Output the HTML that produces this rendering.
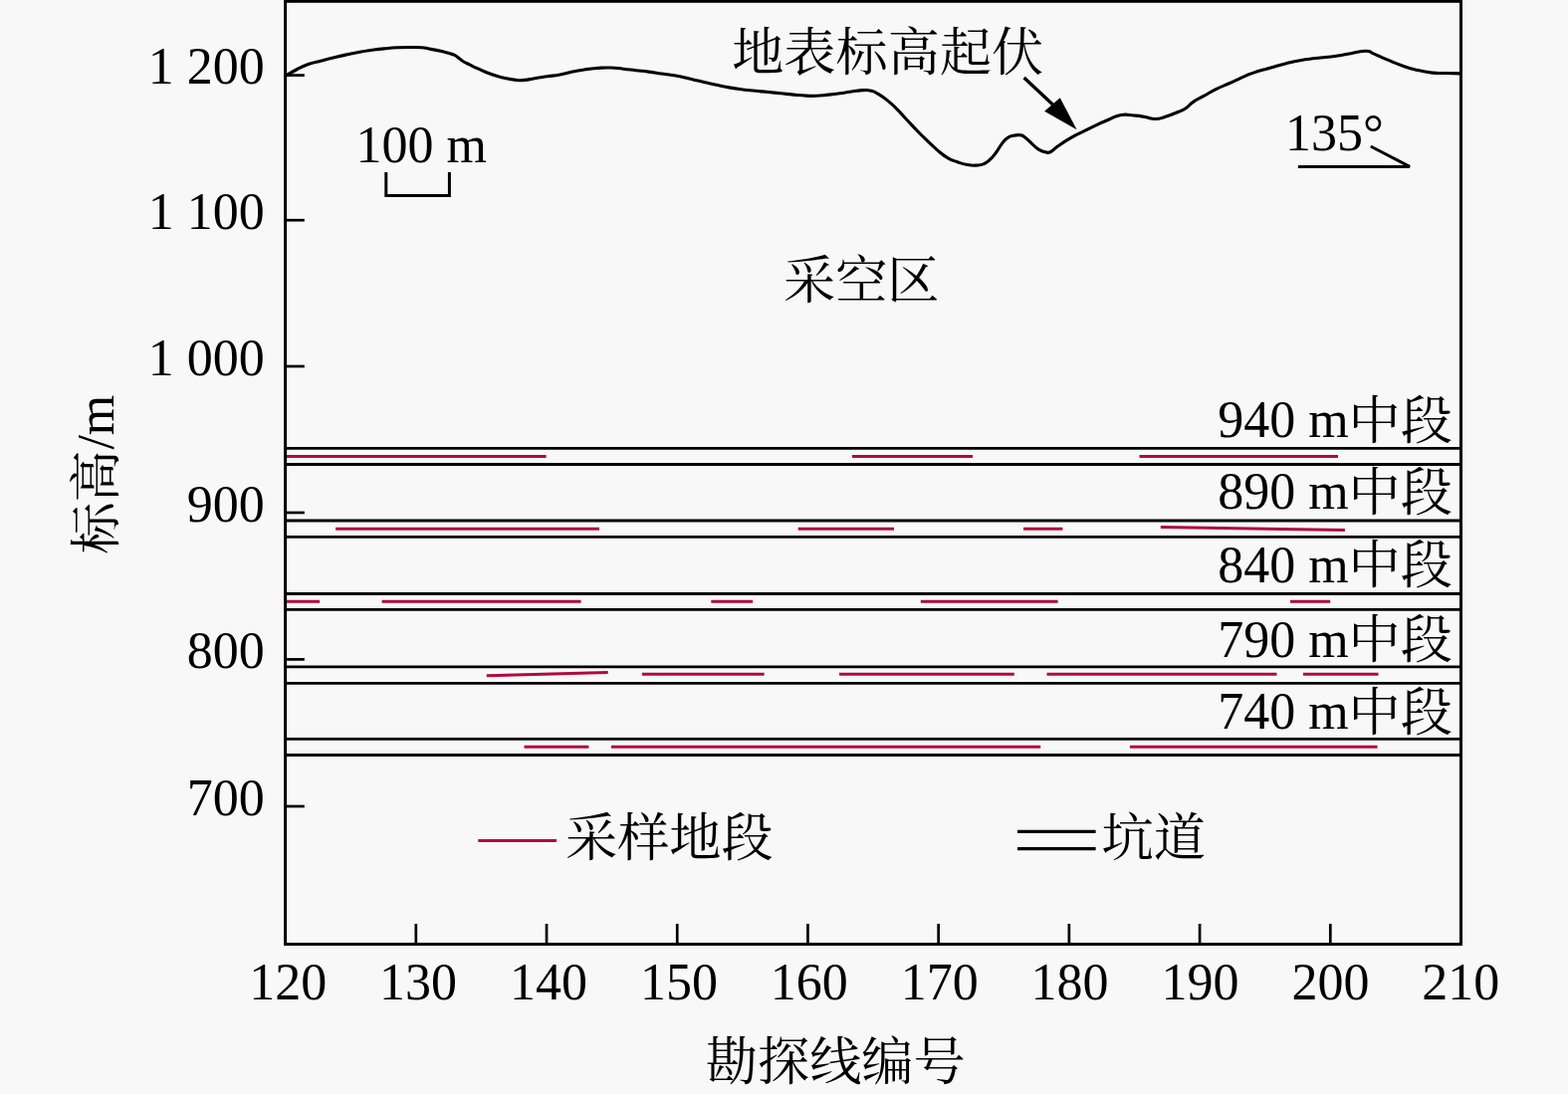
<!DOCTYPE html>
<html><head><meta charset="utf-8"><title>chart</title>
<style>html,body{margin:0;padding:0;background:#f8f8f8}svg{display:block}text{font-family:"Liberation Serif","Noto Serif CJK SC",serif;fill:#000}</style>
</head><body>
<svg width="1575" height="1099" viewBox="0 0 1575 1099">
<rect width="1575" height="1099" fill="#f8f8f8"/>
<rect x="286.6" y="1.3" width="1180.9" height="947.2" fill="none" stroke="#000" stroke-width="3"/>
<line x1="286.6" y1="75.6" x2="305.8" y2="75.6" stroke="#000" stroke-width="2.7" stroke-linecap="butt"/>
<text x="265.8" y="84.3" font-size="52" text-anchor="end">1 200</text>
<line x1="286.6" y1="221.2" x2="305.8" y2="221.2" stroke="#000" stroke-width="2.7" stroke-linecap="butt"/>
<text x="265.8" y="229.9" font-size="52" text-anchor="end">1 100</text>
<line x1="286.6" y1="368" x2="305.8" y2="368" stroke="#000" stroke-width="2.7" stroke-linecap="butt"/>
<text x="265.8" y="376.7" font-size="52" text-anchor="end">1 000</text>
<line x1="286.6" y1="515" x2="305.8" y2="515" stroke="#000" stroke-width="2.7" stroke-linecap="butt"/>
<text x="265.8" y="523.7" font-size="52" text-anchor="end">900</text>
<line x1="286.6" y1="662.4" x2="305.8" y2="662.4" stroke="#000" stroke-width="2.7" stroke-linecap="butt"/>
<text x="265.8" y="671.1" font-size="52" text-anchor="end">800</text>
<line x1="286.6" y1="810" x2="305.8" y2="810" stroke="#000" stroke-width="2.7" stroke-linecap="butt"/>
<text x="265.8" y="818.7" font-size="52" text-anchor="end">700</text>
<text x="289.2" y="1003.8" font-size="52" text-anchor="middle">120</text>
<line x1="417.811" y1="948.5" x2="417.811" y2="928" stroke="#000" stroke-width="2.7" stroke-linecap="butt"/>
<text x="420.1" y="1003.8" font-size="52" text-anchor="middle">130</text>
<line x1="549.022" y1="948.5" x2="549.022" y2="928" stroke="#000" stroke-width="2.7" stroke-linecap="butt"/>
<text x="551" y="1003.8" font-size="52" text-anchor="middle">140</text>
<line x1="680.233" y1="948.5" x2="680.233" y2="928" stroke="#000" stroke-width="2.7" stroke-linecap="butt"/>
<text x="681.9" y="1003.8" font-size="52" text-anchor="middle">150</text>
<line x1="811.444" y1="948.5" x2="811.444" y2="928" stroke="#000" stroke-width="2.7" stroke-linecap="butt"/>
<text x="812.8" y="1003.8" font-size="52" text-anchor="middle">160</text>
<line x1="942.656" y1="948.5" x2="942.656" y2="928" stroke="#000" stroke-width="2.7" stroke-linecap="butt"/>
<text x="943.7" y="1003.8" font-size="52" text-anchor="middle">170</text>
<line x1="1073.87" y1="948.5" x2="1073.87" y2="928" stroke="#000" stroke-width="2.7" stroke-linecap="butt"/>
<text x="1074.6" y="1003.8" font-size="52" text-anchor="middle">180</text>
<line x1="1205.08" y1="948.5" x2="1205.08" y2="928" stroke="#000" stroke-width="2.7" stroke-linecap="butt"/>
<text x="1205.5" y="1003.8" font-size="52" text-anchor="middle">190</text>
<line x1="1336.29" y1="948.5" x2="1336.29" y2="928" stroke="#000" stroke-width="2.7" stroke-linecap="butt"/>
<text x="1336.4" y="1003.8" font-size="52" text-anchor="middle">200</text>
<text x="1467.3" y="1003.8" font-size="52" text-anchor="middle">210</text>
<line x1="286.6" y1="450.4" x2="1467.5" y2="450.4" stroke="#000" stroke-width="2.8" stroke-linecap="butt"/>
<line x1="286.6" y1="466.5" x2="1467.5" y2="466.5" stroke="#000" stroke-width="2.8" stroke-linecap="butt"/>
<line x1="286.6" y1="523" x2="1467.5" y2="523" stroke="#000" stroke-width="2.8" stroke-linecap="butt"/>
<line x1="286.6" y1="539.3" x2="1467.5" y2="539.3" stroke="#000" stroke-width="2.8" stroke-linecap="butt"/>
<line x1="286.6" y1="596.5" x2="1467.5" y2="596.5" stroke="#000" stroke-width="2.8" stroke-linecap="butt"/>
<line x1="286.6" y1="612.3" x2="1467.5" y2="612.3" stroke="#000" stroke-width="2.8" stroke-linecap="butt"/>
<line x1="286.6" y1="669.8" x2="1467.5" y2="669.8" stroke="#000" stroke-width="2.8" stroke-linecap="butt"/>
<line x1="286.6" y1="686.3" x2="1467.5" y2="686.3" stroke="#000" stroke-width="2.8" stroke-linecap="butt"/>
<line x1="286.6" y1="742.4" x2="1467.5" y2="742.4" stroke="#000" stroke-width="2.8" stroke-linecap="butt"/>
<line x1="286.6" y1="758.5" x2="1467.5" y2="758.5" stroke="#000" stroke-width="2.8" stroke-linecap="butt"/>
<line x1="288" y1="458.4" x2="548.6" y2="458.4" stroke="#b00a40" stroke-width="3" stroke-linecap="butt"/>
<line x1="856" y1="458.4" x2="977" y2="458.4" stroke="#b00a40" stroke-width="3" stroke-linecap="butt"/>
<line x1="1144.5" y1="458.4" x2="1344" y2="458.4" stroke="#b00a40" stroke-width="3" stroke-linecap="butt"/>
<line x1="337.1" y1="531.3" x2="602" y2="531.3" stroke="#b00a40" stroke-width="3" stroke-linecap="butt"/>
<line x1="801.7" y1="531.3" x2="898" y2="531.3" stroke="#b00a40" stroke-width="3" stroke-linecap="butt"/>
<line x1="1028" y1="531.3" x2="1067.4" y2="531.3" stroke="#b00a40" stroke-width="3" stroke-linecap="butt"/>
<line x1="288" y1="604.2" x2="321.1" y2="604.2" stroke="#b00a40" stroke-width="3" stroke-linecap="butt"/>
<line x1="383.6" y1="604.2" x2="583.6" y2="604.2" stroke="#b00a40" stroke-width="3" stroke-linecap="butt"/>
<line x1="714.3" y1="604.2" x2="756.2" y2="604.2" stroke="#b00a40" stroke-width="3" stroke-linecap="butt"/>
<line x1="924.8" y1="604.2" x2="1062.6" y2="604.2" stroke="#b00a40" stroke-width="3" stroke-linecap="butt"/>
<line x1="1296" y1="604.2" x2="1336.2" y2="604.2" stroke="#b00a40" stroke-width="3" stroke-linecap="butt"/>
<line x1="645" y1="677.3" x2="767.6" y2="677.3" stroke="#b00a40" stroke-width="3" stroke-linecap="butt"/>
<line x1="843" y1="677.3" x2="1018.8" y2="677.3" stroke="#b00a40" stroke-width="3" stroke-linecap="butt"/>
<line x1="1051.5" y1="677.3" x2="1282.5" y2="677.3" stroke="#b00a40" stroke-width="3" stroke-linecap="butt"/>
<line x1="1309" y1="677.3" x2="1384.5" y2="677.3" stroke="#b00a40" stroke-width="3" stroke-linecap="butt"/>
<line x1="526.5" y1="750.2" x2="591.4" y2="750.2" stroke="#b00a40" stroke-width="3" stroke-linecap="butt"/>
<line x1="613.9" y1="750.2" x2="1045.2" y2="750.2" stroke="#b00a40" stroke-width="3" stroke-linecap="butt"/>
<line x1="1134.9" y1="750.2" x2="1383.5" y2="750.2" stroke="#b00a40" stroke-width="3" stroke-linecap="butt"/>
<line x1="1165.8" y1="529.6" x2="1350.9" y2="532.5" stroke="#b00a40" stroke-width="3" stroke-linecap="butt"/>
<line x1="488.8" y1="678.8" x2="610.7" y2="675.6" stroke="#b00a40" stroke-width="3" stroke-linecap="butt"/>
<path d="M286.6 76.3 C287.0 76.1 285.2 77.2 288.2 75.5 C291.2 73.8 291.8 73.0 297.7 70 C303.6 67.0 303.6 66.7 310.4 64.3 C317.2 61.9 316.3 62.7 323.1 60.9 C329.9 59.1 329.0 59.3 335.8 57.7 C342.6 56.1 341.7 56.3 348.5 54.8 C355.3 53.3 354.4 53.4 361.2 52.2 C368.0 51.0 367.1 51.2 373.9 50.3 C380.7 49.4 379.8 49.5 386.6 48.8 C393.4 48.1 392.5 48.1 399.3 47.8 C406.1 47.5 405.6 47.5 412 47.5 C418.4 47.5 418.3 47.4 423.4 47.8 C428.5 48.2 425.6 48.0 431 49 C436.4 50.0 437.2 50.1 443.7 51.6 C450.2 53.1 450.8 53.1 455.2 54.8 C459.6 56.5 457.5 56.1 460.2 57.9 C462.9 59.7 462.2 59.8 465.3 61.7 C468.4 63.6 467.8 63.0 471.7 64.9 C475.6 66.8 474.4 66.4 480 68.9 C485.6 71.4 485.9 71.8 492.7 74.3 C499.5 76.8 498.6 76.5 505.4 78.1 C512.2 79.7 512.3 79.8 518.1 80.4 C523.9 81.0 521.9 80.9 527 80.4 C532.1 79.9 531.0 79.7 537.1 78.7 C543.2 77.7 543.0 77.8 549.8 76.8 C556.6 75.8 555.7 76.2 562.5 74.9 C569.3 73.6 568.4 73.4 575.2 72 C582.0 70.6 581.1 70.8 587.9 69.8 C594.7 68.8 593.8 68.9 600.6 68.4 C607.4 67.9 606.5 67.8 613.3 68 C620.1 68.2 619.2 68.5 626 69.2 C632.8 69.9 631.9 69.9 638.7 70.7 C645.5 71.5 644.6 71.2 651.4 72.1 C658.2 73.0 658.6 73.2 664.1 74 C669.6 74.8 667.0 74.3 672 75 C677.0 75.7 676.5 75.4 682.7 76.7 C688.9 78.0 688.6 78.2 695.4 79.8 C702.2 81.4 701.3 81.3 708.1 82.8 C714.9 84.3 714.0 84.2 720.8 85.6 C727.6 87.0 726.7 86.9 733.5 88.1 C740.3 89.3 739.4 89.1 746.2 90 C753.0 90.9 752.1 90.6 758.9 91.3 C765.7 92.0 764.8 91.8 771.6 92.5 C778.4 93.2 777.5 93.1 784.3 93.8 C791.1 94.5 790.2 94.5 797 95.1 C803.8 95.7 803.6 95.8 809.7 96.1 C815.8 96.4 813.7 96.6 819.8 96.3 C825.9 96.0 825.0 95.9 832.5 95.1 C840.0 94.3 840.3 94.2 847.8 93.2 C855.3 92.2 855.2 92.0 860.5 91.3 C865.8 90.6 864.0 90.7 867.6 90.6 C871.2 90.5 870.3 90.1 874 91 C877.7 91.9 876.9 91.4 881.6 94.1 C886.3 96.8 886.3 96.7 891.7 101.1 C897.1 105.5 896.8 105.5 901.9 110.6 C907.0 115.7 905.7 114.8 910.8 120.2 C915.9 125.6 915.6 125.4 921 131 C926.4 136.6 925.7 135.9 931.1 141.1 C936.5 146.3 935.9 146.0 941.3 150.6 C946.7 155.2 946.0 155.1 951.4 158.3 C956.8 161.5 956.2 160.8 961.6 162.7 C967.0 164.6 966.6 164.6 971.7 165.5 C976.8 166.4 976.2 166.3 980.6 166.1 C985.0 165.9 984.6 166.2 988.3 164.6 C992.0 163.0 991.2 163.4 994.6 160.2 C998.0 157.0 998.0 156.6 1001 152.5 C1004.0 148.4 1003.3 148.4 1006 144.9 C1008.7 141.4 1008.0 141.5 1011.1 139.2 C1014.2 136.9 1013.8 137.2 1017.5 136.3 C1021.2 135.4 1021.7 135.2 1025.1 135.8 C1028.5 136.4 1026.8 136.0 1030.2 138.6 C1033.6 141.2 1034.1 142.4 1037.8 145.6 C1041.5 148.8 1040.7 148.7 1044.1 150.6 C1047.5 152.5 1047.5 152.4 1050.5 152.9 C1053.5 153.4 1052.1 154.1 1055.4 152.5 C1058.7 150.9 1057.4 150.5 1062.7 146.8 C1068.0 143.1 1068.6 142.5 1075.4 138.6 C1082.2 134.7 1081.3 135.6 1088.1 132.2 C1094.9 128.8 1094.0 129.1 1100.8 125.9 C1107.6 122.7 1106.7 123.0 1113.5 120.2 C1120.3 117.4 1119.4 116.6 1126.2 115.5 C1133.0 114.4 1132.8 115.5 1138.9 116 C1145.0 116.5 1143.2 116.3 1149 117.2 C1154.8 118.1 1154.7 119.5 1160.5 119.5 C1166.3 119.5 1164.5 119.1 1170.6 117.2 C1176.7 115.3 1177.9 114.8 1183.3 112.5 C1188.7 110.2 1186.9 111.4 1191 108.7 C1195.1 106.0 1193.9 105.6 1198.6 102.4 C1203.3 99.2 1202.6 100.1 1208.7 96.7 C1214.8 93.3 1214.6 93.1 1221.4 89.7 C1228.2 86.3 1229.1 86.2 1234.1 84 C1239.1 81.8 1235.7 83.3 1240 81.4 C1244.3 79.5 1245.1 78.9 1250.2 76.7 C1255.3 74.5 1252.0 75.4 1259 73.1 C1266.0 70.8 1267.9 70.5 1276.5 68 C1285.1 65.5 1283.3 65.8 1291.1 63.9 C1298.9 62.0 1297.5 62.1 1305.7 60.7 C1313.9 59.3 1312.1 59.7 1321.8 58.5 C1331.5 57.3 1332.9 57.6 1342.2 56.3 C1351.5 55.0 1348.8 55.1 1356.8 53.7 C1364.8 52.3 1366.0 51.1 1372.2 51.2 C1378.4 51.3 1374.6 51.8 1380.2 54.1 C1385.8 56.4 1385.9 56.8 1393.3 59.9 C1400.7 63.0 1400.1 63.1 1407.9 65.8 C1415.7 68.5 1414.3 68.3 1422.5 70.2 C1430.7 72.1 1430.8 72.2 1438.6 73.1 C1446.4 74.0 1444.0 73.3 1451.7 73.5 C1459.4 73.7 1463.3 73.8 1467.5 73.9" fill="none" stroke="#000" stroke-width="3.1" stroke-linejoin="round" stroke-linecap="butt"/>
<line x1="1028.6" y1="78" x2="1058" y2="105.5" stroke="#000" stroke-width="3.3" stroke-linecap="butt"/>
<polygon points="1081.6,130.2 1049.1,111.8 1064.8,98.3" fill="#000"/>
<path d="M387.8 173 V196.4 H451.4 V173" fill="none" stroke="#000" stroke-width="3"/>
<text x="357.5" y="162.8" font-size="52" text-anchor="start">100 m</text>
<text x="1291" y="151.3" font-size="52" text-anchor="start">135°</text>
<path d="M1303.9 167.4 H1416 L1376.8 147" fill="none" stroke="#000" stroke-width="3" stroke-linejoin="miter"/>
<text x="735.2" y="71.3" font-size="52.2" text-anchor="start">地表标高起伏</text>
<text x="787" y="300" font-size="52.2" text-anchor="start">采空区</text>
<text x="1354.6" y="439.4" font-size="52" text-anchor="end">940 m</text>
<text x="1354.5" y="440.6" font-size="52.2" text-anchor="start">中段</text>
<text x="1354.6" y="511.4" font-size="52" text-anchor="end">890 m</text>
<text x="1354.5" y="512.6" font-size="52.2" text-anchor="start">中段</text>
<text x="1354.6" y="584.9" font-size="52" text-anchor="end">840 m</text>
<text x="1354.5" y="586.1" font-size="52.2" text-anchor="start">中段</text>
<text x="1354.6" y="660.1" font-size="52" text-anchor="end">790 m</text>
<text x="1354.5" y="661.3" font-size="52.2" text-anchor="start">中段</text>
<text x="1354.6" y="732.3" font-size="52" text-anchor="end">740 m</text>
<text x="1354.5" y="733.5" font-size="52.2" text-anchor="start">中段</text>
<line x1="480.3" y1="844.4" x2="559" y2="844.4" stroke="#b00a40" stroke-width="3" stroke-linecap="butt"/>
<text x="568" y="860.4" font-size="52.2" text-anchor="start">采样地段</text>
<line x1="1022" y1="835.4" x2="1100.6" y2="835.4" stroke="#000" stroke-width="3.2" stroke-linecap="butt"/>
<line x1="1022" y1="852.6" x2="1100.6" y2="852.6" stroke="#000" stroke-width="3.2" stroke-linecap="butt"/>
<text x="1106.5" y="860.4" font-size="52.2" text-anchor="start">坑道</text>
<text x="708.8" y="1084.8" font-size="52.2" text-anchor="start">勘探线编号</text>
<text transform="translate(114.6 556.8) rotate(-90)" font-size="52.2" text-anchor="start">标高</text>
<text transform="translate(114.2 451.6) rotate(-90)" font-size="52">/m</text>
</svg>
</body></html>
